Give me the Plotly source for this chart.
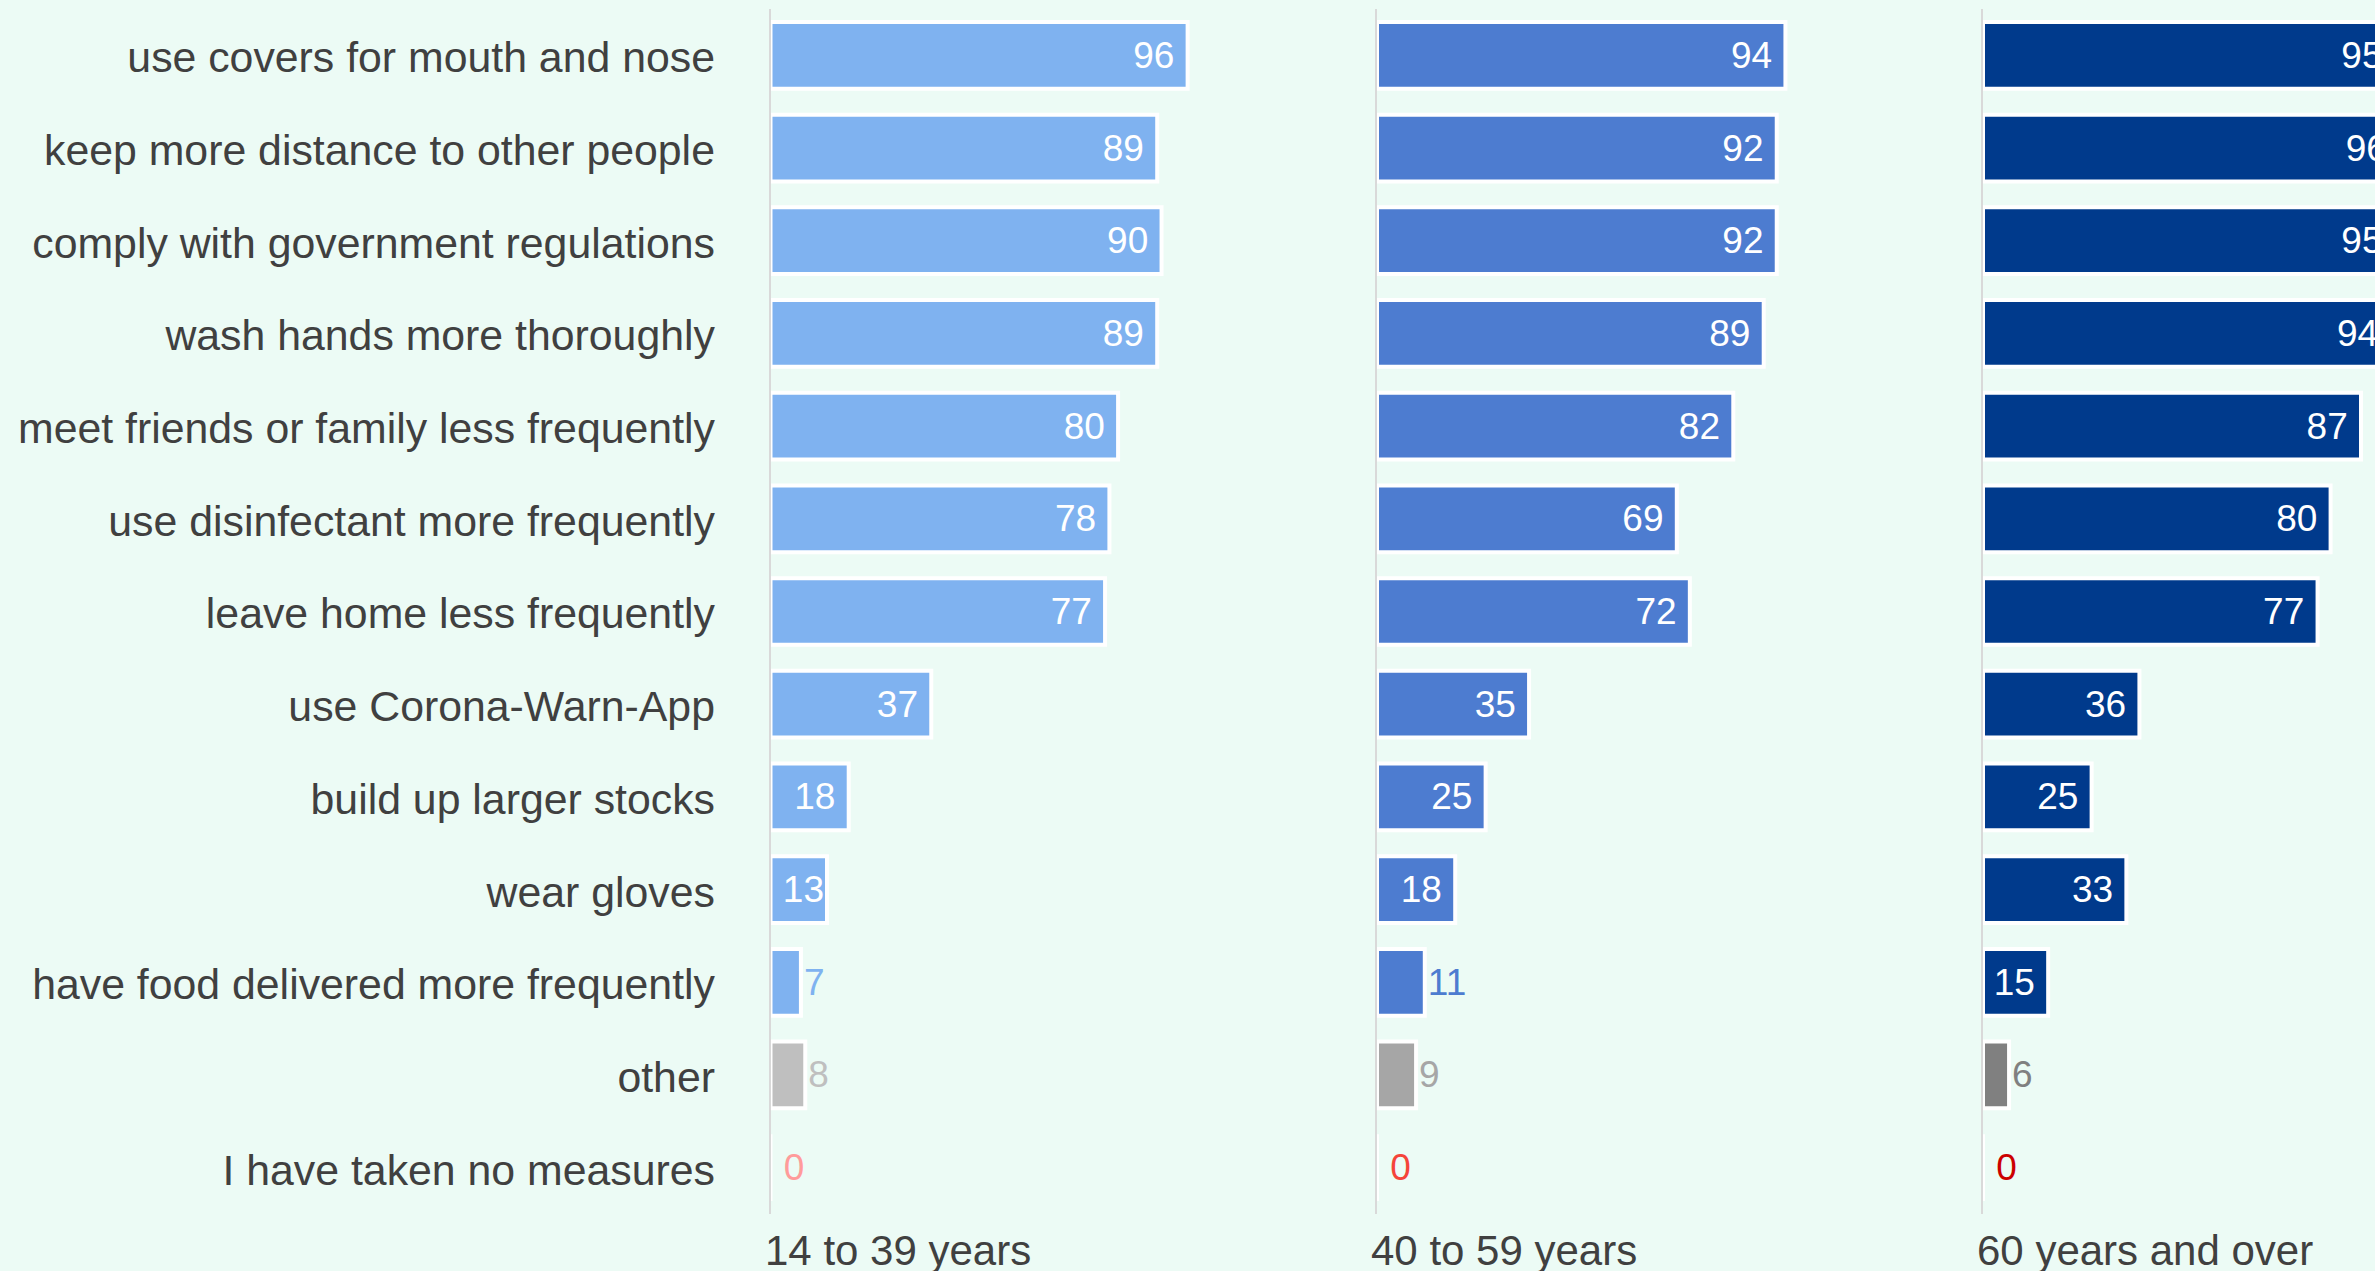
import plotly.graph_objects as go

# Survey: protective measures taken, share of respondents (%) per age group
categories = [
    "use covers for mouth and nose",
    "keep more distance to other people",
    "comply with government regulations",
    "wash hands more thoroughly",
    "meet friends or family less frequently",
    "use disinfectant more frequently",
    "leave home less frequently",
    "use Corona-Warn-App",
    "build up larger stocks",
    "wear gloves",
    "have food delivered more frequently",
    "other",
    "I have taken no measures",
]
age_groups = ["14 to 39 years", "40 to 59 years", "60 years and over"]

values_14_39 = [96, 89, 90, 89, 80, 78, 77, 37, 18, 13, 7, 8, 0]
values_40_59 = [94, 92, 92, 89, 82, 69, 72, 35, 25, 18, 11, 9, 0]
values_60_plus = [95, 96, 95, 94, 87, 80, 77, 36, 25, 33, 15, 6, 0]

series = [values_14_39, values_40_59, values_60_plus]

measure_colors = ["#7fb2f0", "#4d7cd0", "#003a8c"]
other_colors = ["#bfbfbf", "#a6a6a6", "#808080"]
none_colors = ["#ff9b9b", "#f5443a", "#cc0000"]

BG = "#ecfbf5"
TEXT = "#404040"
FONT = "Liberation Sans, Arial, sans-serif"

W, H = 2375, 1271
PX_PER_UNIT = 4.345
panel_left = [770.5, 1377.0, 1983.0]
panel_width = [560.0, 560.0, W - 1983.0]

NBSP = "\u00a0"


def label_for(v):
    if v == 0:
        return NBSP + "0"
    if v >= 15:
        return f"{v}{NBSP}"
    return str(v)


fig = go.Figure()

for i, vals in enumerate(series):
    n = len(vals)
    colors = [measure_colors[i]] * (n - 2) + [other_colors[i], none_colors[i]]
    texts = [label_for(v) for v in vals]
    positions = ["inside" if v >= 12 else "outside" for v in vals]
    suffix = "" if i == 0 else str(i + 1)
    fig.add_trace(
        go.Bar(
            x=vals,
            y=categories,
            orientation="h",
            xaxis="x" + suffix,
            yaxis="y" + suffix,
            marker=dict(color=colors, line=dict(color="white", width=4)),
            text=texts,
            textposition=positions,
            insidetextanchor="end",
            textfont=dict(family=FONT, size=37),
            insidetextfont=dict(family=FONT, size=37, color="white"),
            outsidetextfont=dict(family=FONT, size=37, color=colors),
            hoverinfo="skip",
            showlegend=False,
        )
    )

layout = dict(
    width=W,
    height=H,
    margin=dict(l=0, r=0, t=9, b=57),
    paper_bgcolor=BG,
    plot_bgcolor=BG,
    bargap=0.28,
    font=dict(family=FONT, color=TEXT),
    annotations=[],
)

for i in range(3):
    suffix = "" if i == 0 else str(i + 1)
    x0 = panel_left[i] / W
    x1 = min(1.0, (panel_left[i] + panel_width[i]) / W)
    layout["xaxis" + suffix] = dict(
        domain=[x0, x1],
        range=[0, panel_width[i] / PX_PER_UNIT],
        anchor="y" + suffix,
        showticklabels=False,
        showgrid=False,
        zeroline=False,
        showline=False,
        fixedrange=True,
    )
    yax = dict(
        type="category",
        categoryorder="array",
        categoryarray=categories,
        range=[len(categories) - 0.5, -0.5],
        anchor="x" + suffix,
        showline=True,
        linecolor="#d9d9d9",
        linewidth=2,
        showgrid=False,
        zeroline=False,
        fixedrange=True,
    )
    if i == 0:
        yax.update(
            showticklabels=True,
            ticks="outside",
            ticklen=45,
            tickcolor="rgba(0,0,0,0)",
            ticklabelshift=-2,
            tickfont=dict(family=FONT, size=42.8, color=TEXT),
        )
    else:
        yax.update(showticklabels=False, ticks="", matches="y")
    layout["yaxis" + suffix] = yax
    layout["annotations"].append(
        dict(
            text=age_groups[i],
            xref=f"x{suffix} domain",
            yref="paper",
            x=0,
            y=0,
            xanchor="left",
            yanchor="top",
            xshift=-8,
            yshift=-11,
            showarrow=False,
            font=dict(family=FONT, size=42, color=TEXT),
        )
    )

fig.update_layout(**layout)

fig.write_html("out.html", config={"displayModeBar": False})
